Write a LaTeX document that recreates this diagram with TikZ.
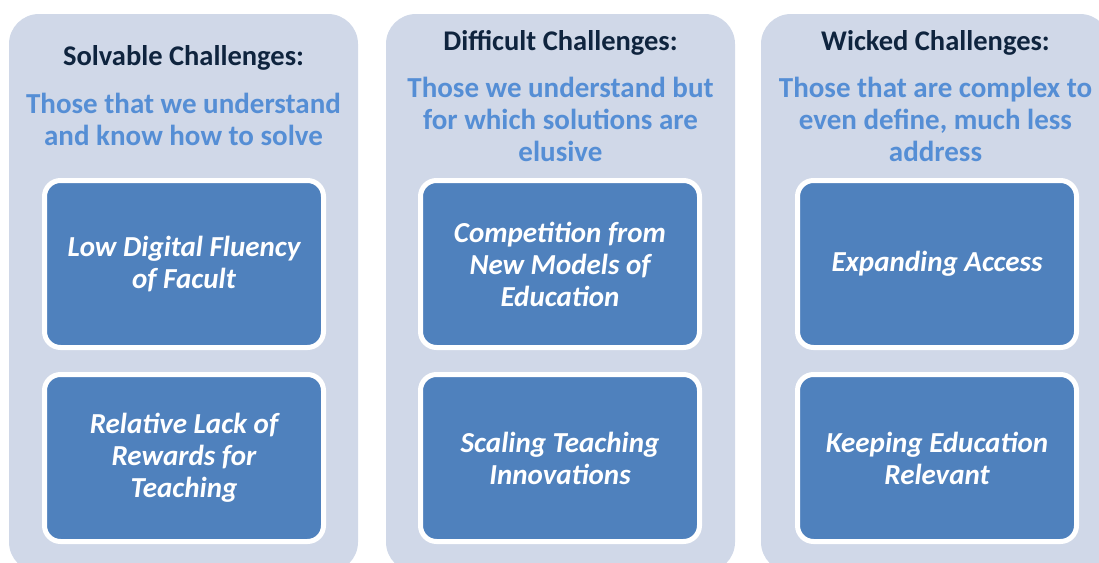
\documentclass[tikz,border=0pt]{standalone}
\usepackage{fontspec}
\setmainfont{Carlito}
\definecolor{outerfill}{RGB}{208,216,232}
\definecolor{innerblue}{RGB}{79,129,189}
\definecolor{titlecol}{RGB}{15,36,62}
\definecolor{subcol}{RGB}{85,142,213}
\begin{document}
\begin{tikzpicture}[x=1pt,y=-1pt,
  panel/.style={fill=outerfill, rounded corners=30pt, minimum width=349pt, minimum height=558pt, inner sep=0pt},
  title/.style={text=titlecol, font=\fontsize{28.5}{32}\selectfont\bfseries, align=center},
  subtitle/.style={text=subcol, font=\fontsize{29}{32}\selectfont\bfseries, align=center},
  item/.style={fill=innerblue, draw=white, line width=5pt, rounded corners=16pt,
    minimum width=279pt, minimum height=167pt, text=white, align=center,
    font=\fontsize{29}{32}\selectfont\bfseries\itshape, inner sep=0pt}]
\useasboundingbox (0,0) rectangle (1099,562);
\clip (0,0) rectangle (1099,562);
% panels
\node[panel] (p1) at (183.5,293) {};
\node[panel] (p2) at (560.5,293) {};
\node[panel] (p3) at (935.5,293) {};
% titles
\node[title] (t1) at (183.5,58) {Solvable Challenges:};
\node[title] (t2) at (560.5,43) {Difficult Challenges:};
\node[title] (t3) at (935.5,43) {Wicked Challenges:};
% subtitles
\node[subtitle] (s1) at (183.5,119) {Those that we understand\\and know how to solve};
\node[subtitle] (s2) at (560.5,119) {Those we understand but\\for which solutions are\\elusive};
\node[subtitle] (s3) at (935.5,119) {Those that are complex to\\even define, much less\\address};
% items
\node[item] (a1) at (184,264) {Low Digital Fluency\\of Facult};
\node[item] (a2) at (184,458) {Relative Lack of\\Rewards for\\Teaching};
\node[item] (b1) at (560,264) {Competition from\\New Models of\\Education};
\node[item] (b2) at (560,458) {Scaling Teaching\\Innovations};
\node[item] (c1) at (937,264) {Expanding Access};
\node[item] (c2) at (937,458) {Keeping Education\\Relevant};
\end{tikzpicture}
\end{document}
